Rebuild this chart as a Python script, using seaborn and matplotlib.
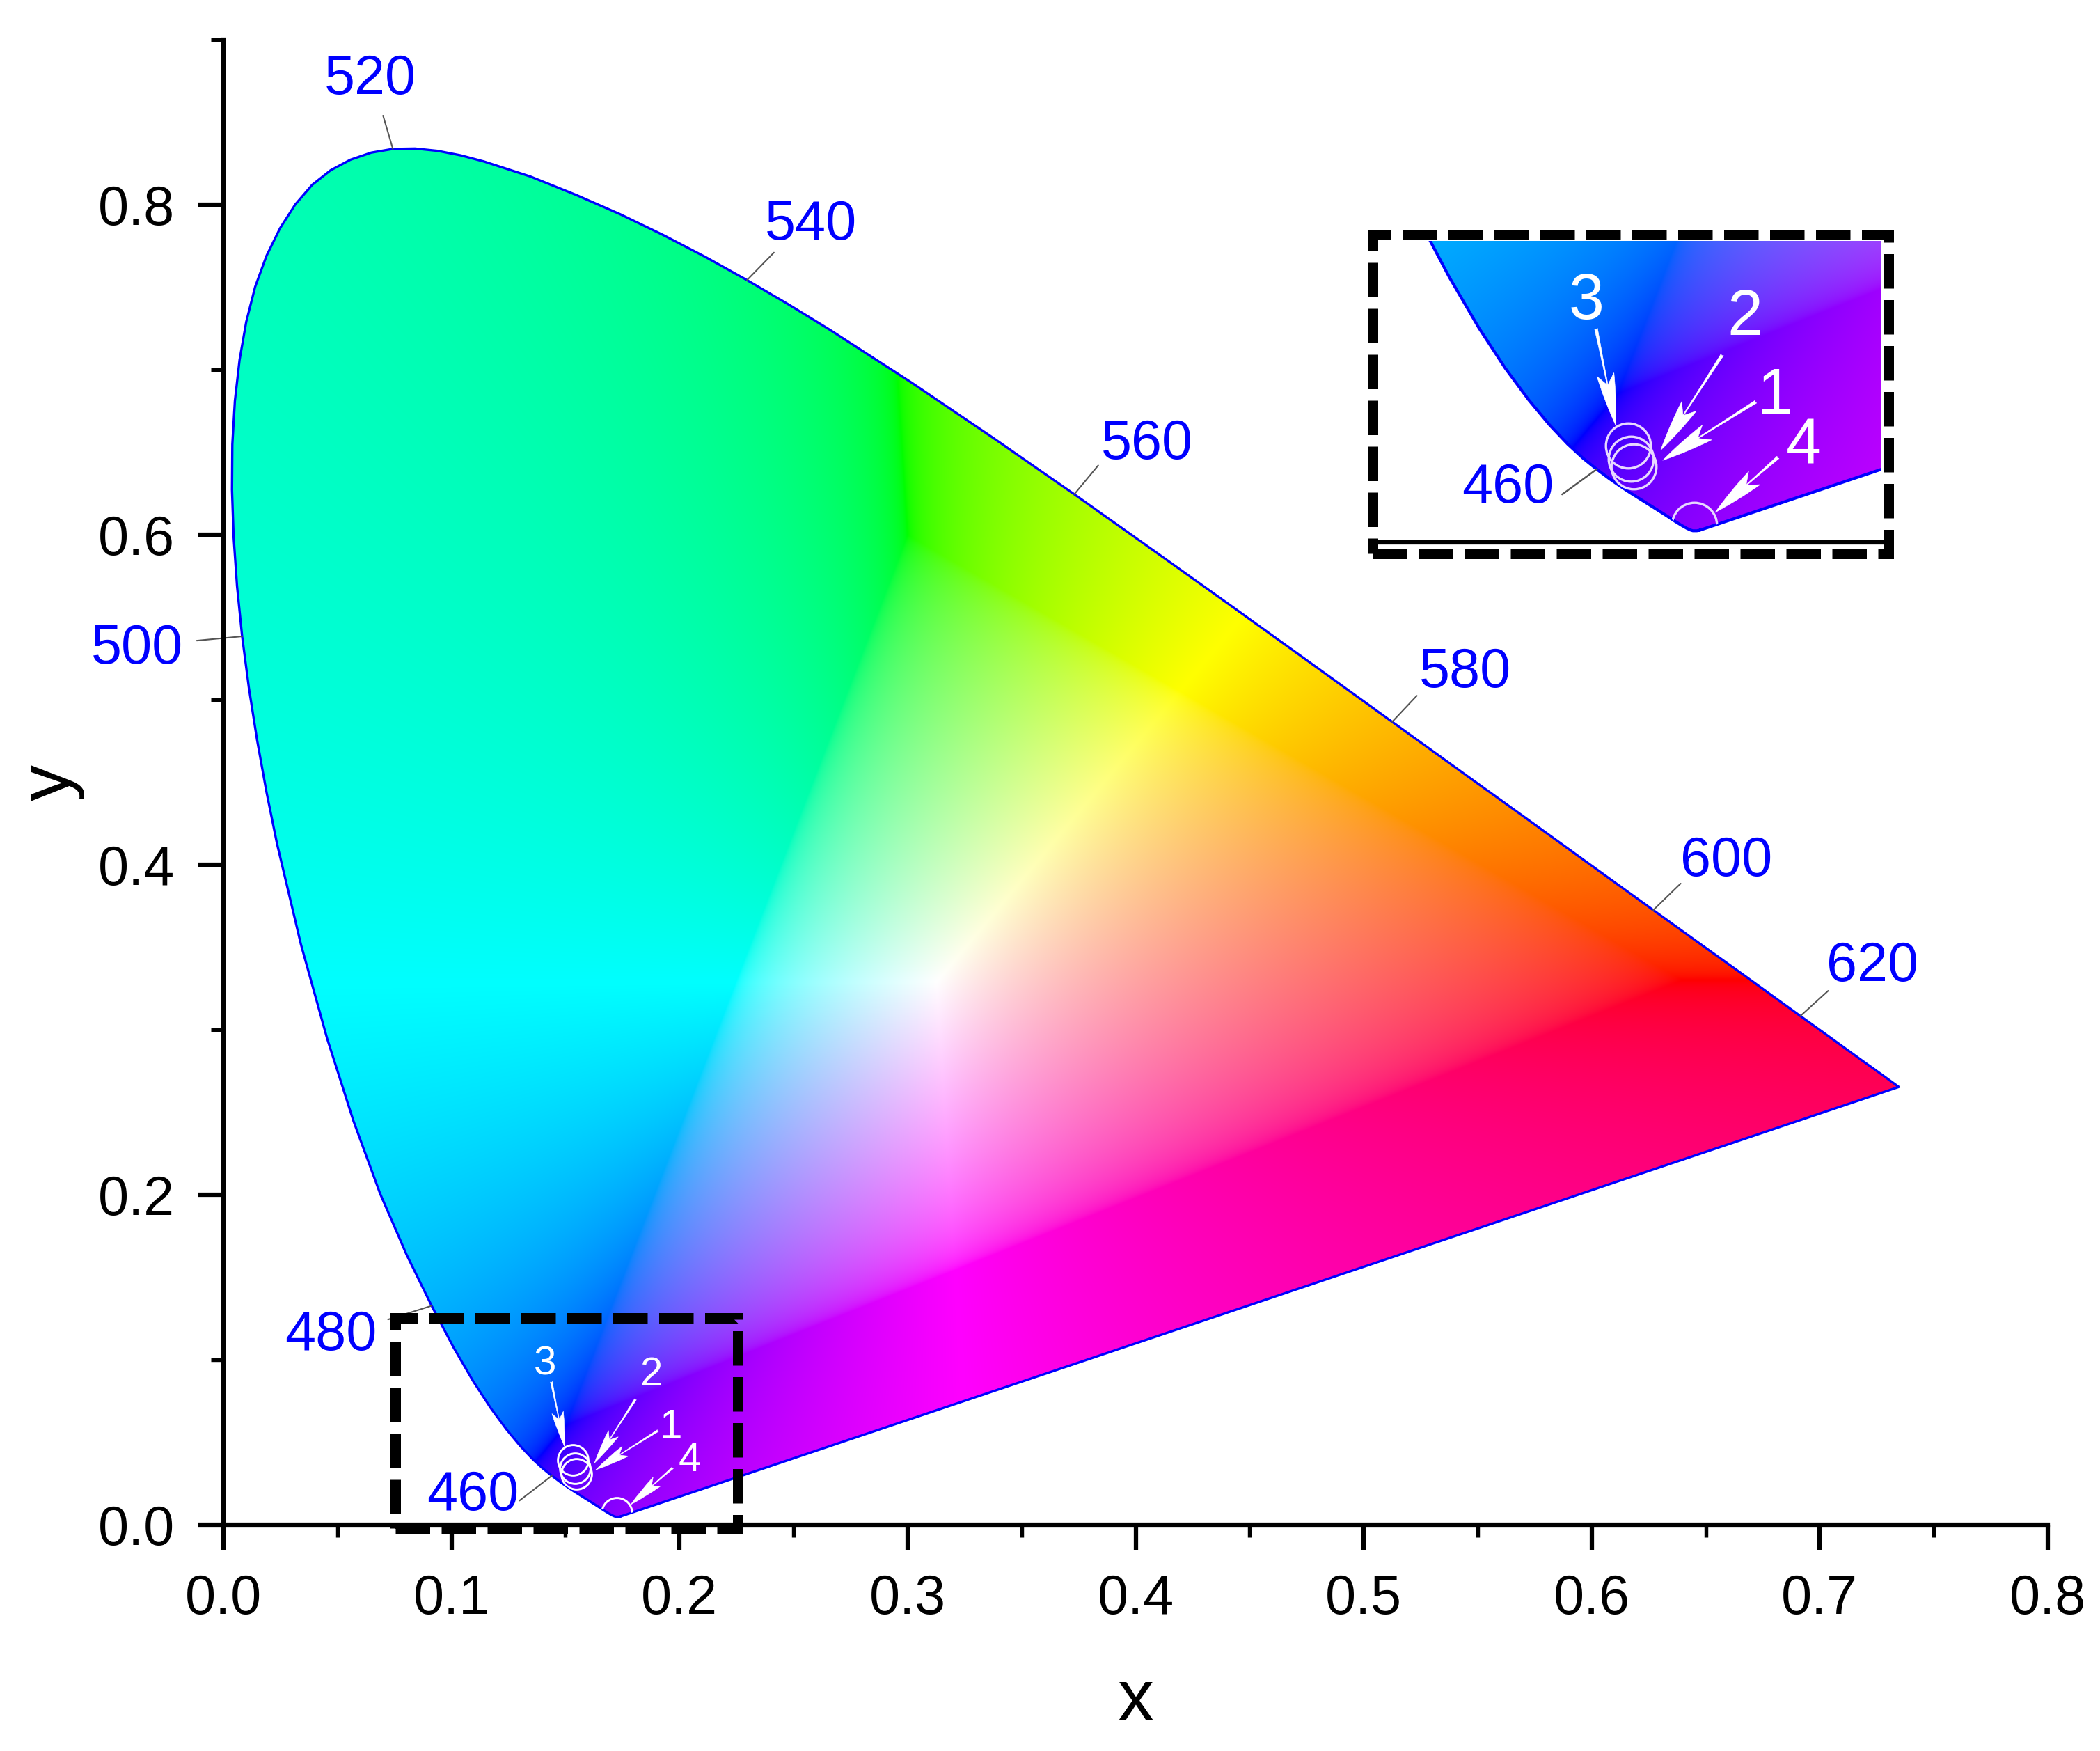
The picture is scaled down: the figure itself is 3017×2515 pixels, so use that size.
import numpy as np
import pandas as pd
import matplotlib
matplotlib.use("Agg")
import matplotlib.pyplot as plt
from matplotlib.patches import Polygon, Rectangle
import seaborn as sns

# spectral locus: wavelength (nm) and chromaticity
locus_nm = [380,385,390,395,400,405,410,415,420,425,430,435,440,445,447.5,450,452.5,455,457.5,460,462.5,465,467.5,470,472.5,475,477.5,
            480,482.5,485,487.5,490,492.5,495,496.25,497.5,498.75,500,501.25,502.5,503.75,505,506.25,507.5,508.75,510,511.25,512.5,513.75,
            515,516.25,517.5,518.75,520,521.25,522.5,523.75,525,527.5,530,532.5,535,537.5,540,542.5,545,550,555,560,565,570,575,
            580,585,590,595,600,605,610,615,620,625,630,635,640,645,650,655,660,665,670,675,680]
locus_x = [0.1741,0.1740,0.1738,0.1736,0.1733,0.1730,0.1726,0.1721,0.1714,0.1703,0.1689,0.1669,0.1644,0.1611,0.15899,0.1566,0.15396,0.1510,0.14768,0.1440,0.14003,0.1355,0.13018,0.1241,0.11728,0.1096,0.10096,
           0.0913,0.08031,0.0687,0.05701,0.0454,0.03395,0.0235,0.01888,0.01475,0.01116,0.0082,0.00596,0.00447,0.00375,0.0039,0.00502,0.00707,0.01000,0.0139,0.01890,0.02481,0.03149,
           0.0389,0.04700,0.05567,0.06481,0.0743,0.08401,0.09393,0.10402,0.1142,0.13456,0.1547,0.17404,0.1929,0.21138,0.2296,0.24776,0.2658,0.3016,0.3373,0.3731,0.4087,0.4441,0.4788,
           0.5125,0.5448,0.5752,0.6029,0.6270,0.6482,0.6658,0.6801,0.6915,0.7006,0.7079,0.7140,0.7190,0.7230,0.7260,0.7283,0.7300,0.7320,0.7334,0.7344,0.7347]
locus_y = [0.0050,0.0050,0.0049,0.0049,0.0048,0.0048,0.0048,0.0048,0.0051,0.0058,0.0069,0.0086,0.0109,0.0138,0.01562,0.0177,0.02001,0.0227,0.02588,0.0297,0.03412,0.0399,0.04768,0.0578,0.07055,0.0868,0.10731,
           0.1327,0.16368,0.2007,0.24474,0.2950,0.35189,0.4127,0.44404,0.47563,0.50719,0.5384,0.56885,0.59849,0.62721,0.6548,0.68111,0.70591,0.72903,0.7502,0.76907,0.7857,0.80012,
           0.8120,0.82085,0.82724,0.83155,0.8338,0.83403,0.83263,0.82991,0.8262,0.81709,0.8059,0.79419,0.7816,0.76831,0.7543,0.73959,0.7243,0.6923,0.6589,0.6245,0.5896,0.5547,0.5202,
           0.4866,0.4544,0.4242,0.3965,0.3725,0.3514,0.3340,0.3197,0.3083,0.2993,0.2920,0.2859,0.2809,0.2770,0.2740,0.2717,0.2700,0.2680,0.2666,0.2656,0.2653]

wave_labels = [520, 540, 560, 580, 600, 620, 500, 480, 460]
wave_text_x = [0.0645, 0.2575, 0.405, 0.5445, 0.659, 0.723, -0.0380, 0.047, 0.1095]
wave_text_y = [0.8757, 0.7877, 0.6547, 0.5162, 0.4017, 0.3382, 0.5307, 0.1147, 0.0177]
wave_lead_x = [0.070, 0.2414, 0.3836, 0.5233, 0.639, 0.7037, -0.0117, 0.0722, 0.1298]
wave_lead_y = [0.854, 0.771, 0.642, 0.5024, 0.3886, 0.3236, 0.5358, 0.1244, 0.0146]

sample_names = ["1", "2", "3", "4"]
sample_x = [0.1540, 0.1547, 0.1532, 0.1725]
sample_y = [0.0340, 0.0308, 0.0393, 0.0072]
sample_text_x = [0.1962, 0.1874, 0.141, 0.2044]
sample_text_y = [0.059, 0.0907, 0.0972, 0.0387]
arrow_tail_x = [0.1905, 0.1807, 0.1438, 0.1970]
arrow_tail_y = [0.0570, 0.0760, 0.0866, 0.0345]
arrow_head_x = [0.1633, 0.1627, 0.1496, 0.1786]
arrow_head_y = [0.0333, 0.0374, 0.0473, 0.0122]

x_major = [0.0, 0.1, 0.2, 0.3, 0.4, 0.5, 0.6, 0.7, 0.8]
x_minor = [0.05, 0.15, 0.25, 0.35, 0.45, 0.55, 0.65, 0.75]
y_major = [0.0, 0.2, 0.4, 0.6, 0.8]
y_minor = [0.1, 0.3, 0.5, 0.7, 0.9]

W, H = 3017, 2515
sns.set_theme(style="ticks")
plt.rcParams["font.family"] = ["Liberation Sans", "DejaVu Sans"]
fig = plt.figure(figsize=(W / 300, H / 300), dpi=300, facecolor="white")


def chroma_rgb(xlim, ylim, nx, ny):
    xs = np.linspace(xlim[0], xlim[1], nx)
    ys = np.linspace(ylim[0], ylim[1], ny)
    gx, gy = np.meshgrid(xs, ys)
    gy = np.maximum(gy, 1e-4)
    X, Y, Z = gx / gy, np.ones_like(gx), (1 - gx - gy) / gy
    r = 3.2406 * X - 1.5372 * Y - 0.4986 * Z
    g = -0.9689 * X + 1.8758 * Y + 0.0415 * Z
    b = 0.0557 * X - 0.2040 * Y + 1.0570 * Z
    rgb = np.dstack([r, g, b])
    rgb = rgb - np.minimum(rgb.min(axis=2, keepdims=True), 0)
    rgb /= np.maximum(rgb.max(axis=2, keepdims=True), 1e-9)
    rgb = np.where(rgb <= 0.0031308, 12.92 * rgb, 1.055 * np.maximum(rgb, 1e-9) ** (1 / 2.4) - 0.055)
    return np.clip(rgb, 0, 1)


def draw_diagram(ax, xlim, ylim, nx, ny, lw):
    img = ax.imshow(chroma_rgb(xlim, ylim, nx, ny), origin="lower", aspect="auto",
                    extent=[xlim[0], xlim[1], ylim[0], ylim[1]], interpolation="bilinear", zorder=1)
    poly = Polygon(np.column_stack([locus_x, locus_y]), closed=True, transform=ax.transData,
                   facecolor="none", edgecolor="none")
    ax.add_patch(poly)
    img.set_clip_path(poly)
    outline = pd.DataFrame({"x": locus_x + locus_x[:1], "y": locus_y + locus_y[:1]})
    sns.lineplot(data=outline, x="x", y="y", sort=False, estimator=None, color="#0000ff",
                 lw=lw, ax=ax, zorder=2)
    ax.set_xlim(*xlim)
    ax.set_ylim(*ylim)
    return poly


def draw_samples(ax, poly, ms, mew, fs, scale, mec):
    for i, name in enumerate(sample_names):
        mark, = ax.plot([sample_x[i]], [sample_y[i]], "o", ms=ms, mfc="none", mec=mec, mew=mew, zorder=4)
        mark.set_clip_path(poly)
        ax.text(sample_text_x[i], sample_text_y[i], name, color="white", fontsize=fs,
                ha="center", va="center", zorder=6)
        ax.annotate("", xy=(arrow_head_x[i], arrow_head_y[i]), xytext=(arrow_tail_x[i], arrow_tail_y[i]),
                    arrowprops=dict(arrowstyle="fancy,head_length=0.6,head_width=0.2,tail_width=0.035",
                                    mutation_scale=20 * scale, fc="white", ec="white", lw=0.15,
                                    shrinkA=0, shrinkB=0), zorder=5)


# main axes
ax = fig.add_axes([321 / W, (H - 2190) / H, 2621 / W, (2190 - 57) / H])
main_poly = draw_diagram(ax, (0, 0.8), (0, 0.9), 1640, 1850, 0.8)
ax.set_xticks(x_major)
ax.set_xticks(x_minor, minor=True)
ax.set_yticks(y_major)
ax.set_yticks(y_minor, minor=True)
ax.set_xticklabels([f"{v:.1f}" for v in x_major])
ax.set_yticklabels([f"{v:.1f}" for v in y_major])
ax.tick_params(which="major", length=8.8, width=1.5, labelsize=19, color="black", labelcolor="black", pad=8)
ax.tick_params(which="minor", length=4.4, width=1.3, color="black")
for s in ("top", "right"):
    ax.spines[s].set_visible(False)
for s in ("left", "bottom"):
    ax.spines[s].set_linewidth(1.5)
    ax.spines[s].set_color("black")
    ax.spines[s].set_zorder(3)
ax.set_xlabel("x", fontsize=25, color="black", labelpad=14.6)
ax.set_ylabel("y", fontsize=25, color="black", labelpad=4.5)

for i, nm in enumerate(wave_labels):
    k = locus_nm.index(nm)
    ax.plot([locus_x[k], wave_lead_x[i]], [locus_y[k], wave_lead_y[i]], color="#555555", lw=0.5,
            zorder=2, clip_on=False)
    ax.text(wave_text_x[i], wave_text_y[i], str(nm), color="#0000ff", fontsize=19, ha="center", va="center")

draw_samples(ax, main_poly, 10.5, 0.7, 14, 1.0, "white")

ax.add_patch(Rectangle((0.0754, -0.0021), 0.2255 - 0.0754, 0.1255 + 0.0021, fill=False, ec="black", lw=3.6,
                       ls=(0, (3.3, 1.1)), clip_on=False, zorder=7))

# enlarged view
L, R, T, B = 1030 * 3017 / 1568, 1405 * 3017 / 1568, 180 * 2515 / 1307, 405 * 2515 / 1307
ins = fig.add_axes([L / W, (H - B) / H, (R - L) / W, (B - T) / H])
ins_poly = draw_diagram(ins, (0.0805, 0.2273), (0.0, 0.122), 700, 600, 1.0)
ins.set_xlabel("")
ins.set_ylabel("")
ins.set_xticks([])
ins.set_yticks([])
for s in ("top", "right", "left"):
    ins.spines[s].set_visible(False)
ins.spines["bottom"].set_linewidth(1.5)
ins.spines["bottom"].set_color("black")
k = locus_nm.index(460)
ins.plot([locus_x[k], 0.1339], [locus_y[k], 0.0195], color="#555555", lw=0.6, zorder=2)
ins.text(0.118, 0.022, "460", color="#0000ff", fontsize=19, ha="center", va="center", zorder=6)
draw_samples(ins, ins_poly, 15.5, 0.8, 22, 1.5, "#e8d8ff")

bx0, bx1, by0, by1 = 1025 * 3017 / 1568, 1410 * 3017 / 1568, 175 * 2515 / 1307, 413 * 2515 / 1307
fig.add_artist(Rectangle((bx0 / W, (H - by1) / H), (bx1 - bx0) / W, (by1 - by0) / H, fill=False, ec="black", lw=3.6,
                         ls=(0, (3.3, 1.1)), transform=fig.transFigure, zorder=10))

fig.savefig("out.png", dpi=300, facecolor="white")
